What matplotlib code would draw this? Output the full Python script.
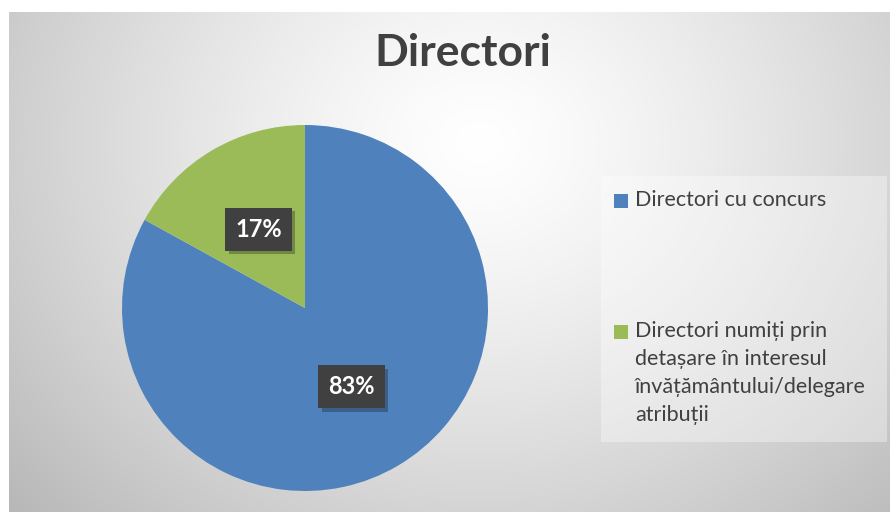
import numpy as np
import matplotlib
matplotlib.use("Agg")
import matplotlib.pyplot as plt
import matplotlib.patheffects as pe
from matplotlib.patches import Rectangle

title = "Directori"
labels = ["Directori cu concurs",
          "Directori numiți prin\ndetașare în interesul\nînvățământului/delegare\natribuții"]
values = [83, 17]
colors = ["#4F81BD", "#9BBB59"]

plt.rcParams['font.family'] = ['Lato', 'DejaVu Sans']

W, H = 890, 512
fig = plt.figure(figsize=(W / 100, H / 100), dpi=100)
fig.patch.set_facecolor("white")

# chart area background: soft radial gradient (white centre, grey edges)
bg = fig.add_axes([9 / W, 0, (W - 9) / W, (H - 12) / H])
yy, xx = np.mgrid[0:H - 12, 0:W - 9]
d = np.hypot(xx - 470, (yy - 130) * 1.15) / 560
shade = np.clip(1 - 0.24 * d ** 1.3, 0, 1)
bg.imshow(np.dstack([shade] * 3), aspect="auto", interpolation="bilinear")
bg.set_axis_off()

# pie
r, cx, cy = 183, 305, 308
ax = fig.add_axes([(cx - r) / W, (H - cy - r) / H, 2 * r / W, 2 * r / H])
wedges, _, autotexts = ax.pie(values, colors=colors, startangle=90, counterclock=False,
                              autopct='%.0f%%', pctdistance=0.5, radius=1,
                              wedgeprops=dict(linewidth=0))
ax.set_xlim(-1, 1)
ax.set_ylim(-1, 1)
ax.set_axis_off()
for t in autotexts:
    t.set_color("white")
    t.set_fontsize(17)
    t.set_fontweight("bold")
    t.set_bbox(dict(boxstyle="square,pad=0.42", facecolor="#404040", edgecolor="none"))
    t.get_bbox_patch().set_path_effects([pe.SimplePatchShadow(offset=(2.5, -2.5), alpha=0.3), pe.Normal()])

fig.text(463 / W, 1 - 53 / H, title, ha="center", va="center",
         fontsize=32, fontweight="bold", color="#404040")

# legend box
fig.patches.append(Rectangle((601 / W, 1 - 442 / H), 286 / W, 266 / H,
                             transform=fig.transFigure, facecolor="white",
                             alpha=0.35, edgecolor="none"))
ys = [201, 332]
for lab, col, y in zip(labels, colors, ys):
    fig.patches.append(Rectangle((614 / W, 1 - (y + 7) / H), 14 / W, 14 / H,
                                 transform=fig.transFigure, facecolor=col, edgecolor="none"))
    fig.text(635 / W, 1 - (y - 11) / H, lab, ha="left", va="top", fontsize=15.5,
             color="#404040", linespacing=1.5)

fig.savefig("out.png", dpi=100)
